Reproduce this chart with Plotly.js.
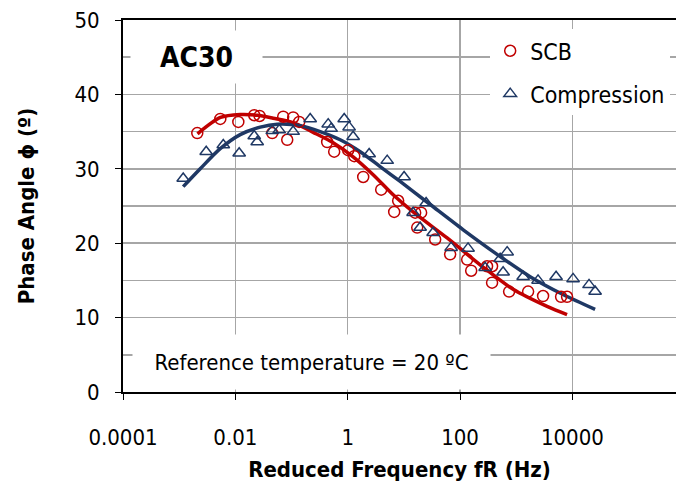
<!DOCTYPE html>
<html><head><meta charset="utf-8">
<script src="https://cdn.plot.ly/plotly-3.0.1.min.js"></script>
<style>html,body{margin:0;padding:0;background:#fff}</style>
</head><body><div id="chart" style="width:676px;height:495px"></div>
<script>
// Measured data points (reduced frequency in Hz, phase angle in degrees)
const scbFreq = [0.0021, 0.0054, 0.0113, 0.0217, 0.027, 0.0454, 0.0711, 0.0839, 0.107, 0.137, 0.431, 0.575, 1.02, 1.31, 1.89, 3.95, 7.92, 6.73, 15.9, 20.3, 17.3, 36.1, 66.7, 134, 158, 303, 372, 372, 748, 1630, 3010, 6300, 8050];
const scbPhase = [34.8, 36.7, 36.3, 37.2, 37.1, 34.8, 37.0, 33.9, 36.9, 36.3, 33.6, 32.3, 32.5, 31.7, 28.9, 27.2, 25.7, 24.2, 24.1, 24.1, 22.1, 20.5, 18.5, 17.8, 16.3, 16.9, 16.9, 14.7, 13.5, 13.5, 12.9, 12.8, 12.8];
const compFreq = [0.00118, 0.00303, 0.0061, 0.0117, 0.0217, 0.0245, 0.0454, 0.0604, 0.107, 0.215, 0.45, 0.508, 0.867, 1.06, 1.25, 2.41, 5.05, 10.1, 24.9, 14.6, 19.5, 33.2, 69.5, 139, 280, 518, 690, 585, 1330, 2450, 5130, 10300, 19800, 25400];
const compPhase = [28.7, 32.3, 33.2, 32.1, 34.4, 33.6, 35.1, 35.2, 35.0, 36.7, 36.0, 35.4, 36.7, 35.6, 34.3, 32.0, 31.1, 28.9, 25.4, 24.1, 22.1, 21.4, 19.4, 19.3, 16.7, 17.9, 18.8, 16.1, 15.5, 15.0, 15.5, 15.2, 14.4, 13.5];

// Fitted model curves
const scbFitFreq = [0.00212, 0.00543, 0.0122, 0.0245, 0.0472, 0.107, 0.243, 0.552, 1.25, 2.84, 6.46, 14.6, 58.9, 228, 881, 3550, 8050];
const scbFitPhase = [34.7, 36.9, 37.3, 37.2, 36.8, 36.2, 34.9, 33.5, 31.6, 29.2, 26.5, 24.2, 20.7, 17.1, 13.8, 11.5, 10.4];
const compFitFreq = [0.00118, 0.00237, 0.00538, 0.0122, 0.0277, 0.0557, 0.143, 0.324, 0.735, 1.67, 3.78, 8.59, 29.4, 114, 457, 1770, 6820, 25400];
const compFitPhase = [27.6, 30.0, 32.7, 34.6, 35.6, 36.0, 35.8, 35.0, 33.9, 32.3, 30.3, 28.3, 25.2, 21.8, 18.5, 15.5, 13.1, 11.1];

const xTickVals = [0.0001, 0.01, 1, 100, 10000];
const xTickText = ['0.0001', '0.01', '1', '100', '10000'];

const RED = '#c00000';
const NAVY = '#1f3864';
const FONT = '"Liberation Sans Narrow", "Arial Narrow", "DejaVu Sans Condensed", sans-serif';
const GRID = '#a6a6a6';

const traces = [
  {x: scbFitFreq, y: scbFitPhase, mode: 'lines', line: {color: RED, width: 3.5, shape: 'spline', smoothing: 0.8}, showlegend: false, hoverinfo: 'skip'},
  {x: compFitFreq, y: compFitPhase, mode: 'lines', line: {color: NAVY, width: 3.5, shape: 'spline', smoothing: 0.8}, showlegend: false, hoverinfo: 'skip'},
  {x: scbFreq, y: scbPhase, mode: 'markers', name: 'SCB', legendgroup: 'a',
   marker: {symbol: 'circle-open', size: 11, color: RED, line: {width: 1.5, color: RED}}},
  {x: compFreq, y: compPhase, mode: 'markers', name: 'Compression', legendgroup: 'b',
   marker: {symbol: 'triangle-up-open', size: 11, color: NAVY, line: {width: 1.5, color: NAVY}}}
];

const layout = {
  width: 676, height: 495,
  margin: {l: 123, r: 0, t: 20, b: 103, autoexpand: false},
  paper_bgcolor: '#fff', plot_bgcolor: '#fff',
  font: {family: FONT, size: 22, color: '#000'},
  xaxis: {
    type: 'log', range: [-4, 5.845],
    tickmode: 'array', tickvals: xTickVals, ticktext: xTickText,
    showgrid: true, gridcolor: GRID, gridwidth: 1.5,
    showline: true, linecolor: '#000', linewidth: 2, mirror: true,
    ticks: 'outside', ticklen: 6, tickcolor: '#000', tickwidth: 1,
    ticklabelstandoff: 19, zeroline: false,
    tickfont: {family: FONT, size: 22, color: '#000'},
    title: {text: '<b>Reduced Frequency fR (Hz)</b>', font: {family: FONT, size: 22, color: '#000'}, standoff: 12}
  },
  yaxis: {
    range: [0, 50], tick0: 0, dtick: 10,
    showgrid: true, gridcolor: GRID, gridwidth: 1.5,
    minor: {dtick: 5, showgrid: true, gridcolor: GRID, gridwidth: 1.5, ticks: ''},
    showline: true, linecolor: '#000', linewidth: 2, mirror: false,
    ticks: 'outside', ticklen: 6, tickcolor: '#000', tickwidth: 1,
    ticklabelstandoff: 11, zeroline: false,
    tickfont: {family: FONT, size: 22, color: '#000'},
    title: {text: '<b>Phase Angle ϕ (º)</b>', font: {family: FONT, size: 22, color: '#000'}, standoff: 34}
  },
  legend: {
    x: 0.664, y: 0.975, xanchor: 'left', yanchor: 'top',
    bgcolor: '#fff', borderwidth: 0,
    font: {family: FONT, size: 23, color: '#000'},
    tracegroupgap: 10, itemwidth: 30
  },
  annotations: [
    {xref: 'paper', yref: 'paper', x: 0.1325, y: 0.9006, xanchor: 'center', yanchor: 'middle',
     text: '<b>AC30</b>', showarrow: false, bgcolor: '#fff', width: 129, height: 50,
     font: {family: FONT, size: 28, color: '#000'}},
    {xref: 'paper', yref: 'paper', x: 0.34, y: 0.0814, xanchor: 'center', yanchor: 'middle',
     text: 'Reference temperature = 20 ºC', showarrow: false, bgcolor: '#fff', width: 355, height: 52,
     font: {family: FONT, size: 22, color: '#000'}}
  ]
};

Plotly.newPlot('chart', traces, layout, {displayModeBar: false, staticPlot: true});
</script>
</body></html>
